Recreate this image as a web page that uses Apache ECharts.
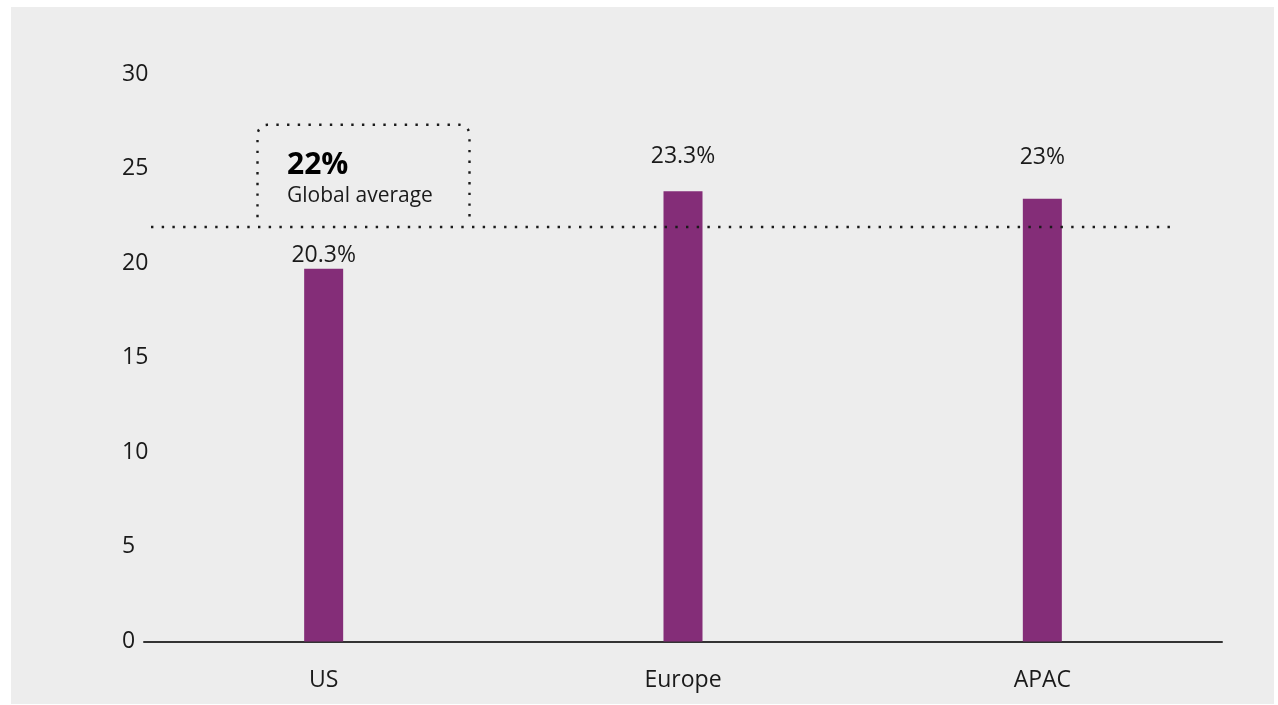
<!DOCTYPE html>
<html>
<head>
<meta charset="utf-8">
<script src="https://cdn.jsdelivr.net/npm/echarts@6/dist/echarts.min.js"></script>
<style>
html,body{margin:0;padding:0;background:#ffffff;}
#wrap{position:absolute;left:11px;top:7px;width:1263px;height:697px;background:#ededed;}
#chart{position:absolute;left:0;top:0;width:1278px;height:705px;}
</style>
</head>
<body>
<div id="wrap"></div>
<div id="chart"></div>
<script>
// ---- data ----
const categories = ['US', 'Europe', 'APAC'];
const barValues = [19.7, 23.8, 23.4];
const barLabels = ['20.3%', '23.3%', '23%'];
const averageValue = 21.9;
const averageLabel = '22%';
const averageCaption = 'Global average';
const yTicks = [0, 5, 10, 15, 20, 25, 30];

// ---- styles ----
const FONT = '"Open Sans", "Noto Sans", sans-serif';
const TEXT = '#1a1a1a';
const BAR = '#842d78';
const labelDistances = [2, 23, 30];
const DOT = [2.4, 8.3];

const chart = echarts.init(document.getElementById('chart'), null, {renderer: 'canvas'});

const option = {
  backgroundColor: 'transparent',
  animation: false,
  grid: {left: 144, right: 56, top: 74, bottom: 63.5, containLabel: false},
  xAxis: {
    type: 'category',
    data: categories,
    axisLine: {show: true, lineStyle: {color: '#333333', width: 2}},
    axisTick: {show: false},
    axisLabel: {color: TEXT, fontFamily: FONT, fontSize: 23, margin: 27}
  },
  yAxis: {
    type: 'value',
    min: yTicks[0],
    max: yTicks[yTicks.length - 1],
    interval: yTicks[1] - yTicks[0],
    splitLine: {show: false},
    axisLine: {show: false},
    axisTick: {show: false},
    axisLabel: {color: TEXT, fontFamily: FONT, fontSize: 23, align: 'left', margin: 22}
  },
  series: [{
    type: 'bar',
    barWidth: 39,
    itemStyle: {color: BAR},
    data: barValues.map((v, i) => ({
      value: v,
      label: {
        show: true,
        position: 'top',
        distance: labelDistances[i],
        formatter: barLabels[i],
        color: TEXT,
        fontFamily: FONT,
        fontSize: 23
      }
    })),
    markLine: {
      silent: true,
      symbol: ['none', 'none'],
      label: {show: false},
      lineStyle: {color: TEXT, width: 2.4, type: DOT, cap: 'butt'},
      data: [[{yAxis: averageValue, x: 151}, {yAxis: averageValue, x: 1176}]]
    }
  }]
};
chart.setOption(option);

// annotation box tied to the average line
const lineY = chart.convertToPixel({yAxisIndex: 0}, averageValue);
const x1 = 257.5, x2 = 469.5, yTop = lineY - 102.5, yBot = lineY - 10, r = 10;
const pts = [[x1, yBot]];
const steps = 6;
for (let k = 0; k <= steps; k++) {
  const a = Math.PI + (Math.PI / 2) * (k / steps);
  pts.push([x1 + r + r * Math.cos(a), yTop + r + r * Math.sin(a)]);
}
for (let k = 0; k <= steps; k++) {
  const a = 1.5 * Math.PI + (Math.PI / 2) * (k / steps);
  pts.push([x2 - r + r * Math.cos(a), yTop + r + r * Math.sin(a)]);
}
pts.push([x2, yBot]);

chart.setOption({
  graphic: [
    {
      type: 'polyline',
      shape: {points: pts},
      style: {fill: null, stroke: TEXT, lineWidth: 2.4, lineDash: DOT, lineCap: 'butt'},
      silent: true
    },
    {
      type: 'text',
      x: 287,
      y: lineY - 62,
      style: {text: averageLabel, fill: '#000000', font: 'bold 30px ' + FONT, verticalAlign: 'middle'},
      silent: true
    },
    {
      type: 'text',
      x: 287,
      y: lineY - 31,
      style: {text: averageCaption, fill: TEXT, font: '21px ' + FONT, verticalAlign: 'middle'},
      silent: true
    }
  ]
});
</script>
</body>
</html>
